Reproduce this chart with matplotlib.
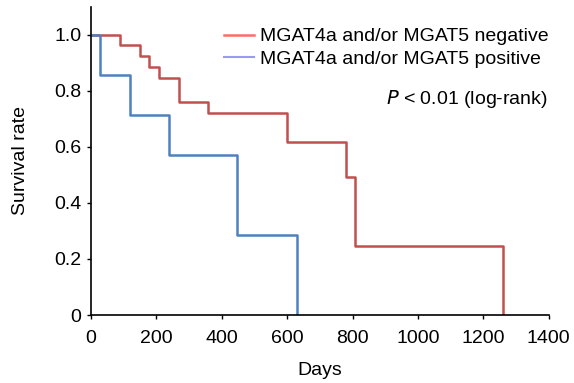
import matplotlib
matplotlib.use("Agg")
import matplotlib.pyplot as plt
from matplotlib.lines import Line2D

plt.rcParams['font.family'] = ['Liberation Sans', 'DejaVu Sans']

# Kaplan-Meier step data (days, survival after the step)
neg_days = [0, 89, 150, 177, 208, 269, 358, 600, 780, 808, 1260]
neg_surv = [1.0, 0.962, 0.923, 0.885, 0.846, 0.761, 0.72, 0.617, 0.494, 0.247, 0.0]
pos_days = [0, 29, 119, 240, 448, 630]
pos_surv = [1.0, 0.857, 0.714, 0.571, 0.286, 0.0]

x_ticks = [0, 200, 400, 600, 800, 1000, 1200, 1400]
y_ticks = [0, 0.2, 0.4, 0.6, 0.8, 1.0]
y_labels = ['0', '0.2', '0.4', '0.6', '0.8', '1.0']

FS = 14

fig = plt.figure(figsize=(5.74, 3.83), dpi=100)
ax = fig.add_axes([0.1585, 0.1775, 0.7975, 0.805])

ax.step(neg_days, neg_surv, where='post', color='#c0504d', lw=1.8)
ax.step(pos_days, pos_surv, where='post', color='#4f81bd', lw=1.8)

ax.set_xlim(0, 1400)
ax.set_ylim(0, 1.1)
ax.set_xticks(x_ticks)
ax.set_yticks(y_ticks)
ax.set_yticklabels(y_labels)
ax.tick_params(labelsize=FS, length=3, width=1, direction='out')
ax.tick_params(axis='x', pad=8)
ax.tick_params(axis='y', pad=4)
for s in ['top', 'right']:
    ax.spines[s].set_visible(False)
for s in ['left', 'bottom']:
    ax.spines[s].set_linewidth(1.2)

ax.set_xlabel('Days', fontsize=FS, labelpad=10.5)
ax.set_ylabel('Survival rate', fontsize=FS, labelpad=18)

handles = [Line2D([], [], color='#ff6b6b', lw=1.8),
           Line2D([], [], color='#9a9af0', lw=1.5)]
ax.legend(handles, ['MGAT4a and/or MGAT5 negative', 'MGAT4a and/or MGAT5 positive'],
          loc='upper right', bbox_to_anchor=(1.017, 0.957), frameon=False, fontsize=FS,
          handlelength=1.55, handletextpad=0.3, labelspacing=0.25, borderaxespad=0.0)

ax.text(0.998, 0.70, r'$\it{P}$ < 0.01 (log-rank)', transform=ax.transAxes,
        ha='right', va='center', fontsize=FS)

fig.savefig('out.png', dpi=100)
